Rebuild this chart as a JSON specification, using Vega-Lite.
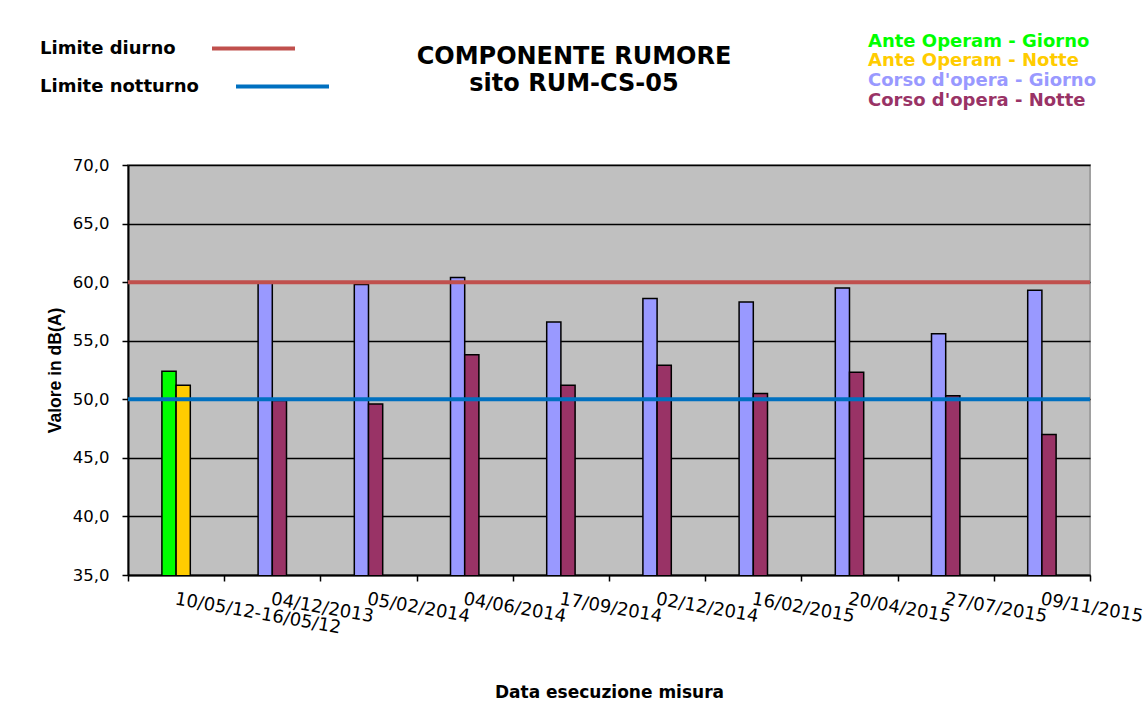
{
  "$schema": "https://vega.github.io/schema/vega-lite/v6.json",
  "width": 962,
  "height": 410,
  "autosize": {"type": "none"},
  "padding": {"left": 128, "top": 165, "right": 56, "bottom": 141},
  "background": "white",
  "title": {
    "text": ["COMPONENTE RUMORE", "sito RUM-CS-05"],
    "font": "DejaVu Sans",
    "fontSize": 24,
    "fontWeight": "bold",
    "color": "black",
    "anchor": "middle",
    "dx": -35,
    "offset": -91,
    "lineHeight": 27
  },
  "config": {
    "view": {"fill": "#C0C0C0", "stroke": "#A0A0A0", "strokeWidth": 2}
  },
  "layer": [
    {
      "data": {
        "values": [
          {"data": "10/05/12-16/05/12", "periodo": "Giorno", "serie": "Ante Operam - Giorno", "valore": 52.4},
          {"data": "10/05/12-16/05/12", "periodo": "Notte", "serie": "Ante Operam - Notte", "valore": 51.2},
          {"data": "04/12/2013", "periodo": "Giorno", "serie": "Corso d'opera - Giorno", "valore": 60.0},
          {"data": "04/12/2013", "periodo": "Notte", "serie": "Corso d'opera - Notte", "valore": 49.9},
          {"data": "05/02/2014", "periodo": "Giorno", "serie": "Corso d'opera - Giorno", "valore": 59.8},
          {"data": "05/02/2014", "periodo": "Notte", "serie": "Corso d'opera - Notte", "valore": 49.6},
          {"data": "04/06/2014", "periodo": "Giorno", "serie": "Corso d'opera - Giorno", "valore": 60.4},
          {"data": "04/06/2014", "periodo": "Notte", "serie": "Corso d'opera - Notte", "valore": 53.8},
          {"data": "17/09/2014", "periodo": "Giorno", "serie": "Corso d'opera - Giorno", "valore": 56.6},
          {"data": "17/09/2014", "periodo": "Notte", "serie": "Corso d'opera - Notte", "valore": 51.2},
          {"data": "02/12/2014", "periodo": "Giorno", "serie": "Corso d'opera - Giorno", "valore": 58.6},
          {"data": "02/12/2014", "periodo": "Notte", "serie": "Corso d'opera - Notte", "valore": 52.9},
          {"data": "16/02/2015", "periodo": "Giorno", "serie": "Corso d'opera - Giorno", "valore": 58.3},
          {"data": "16/02/2015", "periodo": "Notte", "serie": "Corso d'opera - Notte", "valore": 50.5},
          {"data": "20/04/2015", "periodo": "Giorno", "serie": "Corso d'opera - Giorno", "valore": 59.5},
          {"data": "20/04/2015", "periodo": "Notte", "serie": "Corso d'opera - Notte", "valore": 52.3},
          {"data": "27/07/2015", "periodo": "Giorno", "serie": "Corso d'opera - Giorno", "valore": 55.6},
          {"data": "27/07/2015", "periodo": "Notte", "serie": "Corso d'opera - Notte", "valore": 50.3},
          {"data": "09/11/2015", "periodo": "Giorno", "serie": "Corso d'opera - Giorno", "valore": 59.3},
          {"data": "09/11/2015", "periodo": "Notte", "serie": "Corso d'opera - Notte", "valore": 47.0}
        ]
      },
      "mark": {"type": "bar", "stroke": "black", "strokeWidth": 1.5, "clip": true},
      "encoding": {
        "x": {
          "field": "data",
          "type": "nominal",
          "sort": null,
          "scale": {"paddingInner": 0, "paddingOuter": 0},
          "axis": {
            "title": "Data esecuzione misura",
            "titleFont": "DejaVu Sans",
            "titleFontSize": 17,
            "titleFontWeight": "bold",
            "titleColor": "black",
            "titlePadding": 48,
            "labelAngle": 10,
            "labelAlign": "left",
            "labelBaseline": "top",
            "labelFont": "DejaVu Sans",
            "labelFontSize": 18,
            "labelColor": "black",
            "labelPadding": 9,
            "labelOverlap": false,
            "labelBound": false,
            "labelFlush": false,
            "labelLimit": 400,
            "tickBand": "extent",
            "tickSize": 6,
            "tickColor": "black",
            "tickWidth": 1.5,
            "domainColor": "black",
            "domainWidth": 2,
            "grid": false
          }
        },
        "xOffset": {
          "field": "periodo",
          "type": "nominal",
          "scale": {"domain": ["Giorno", "Notte"], "range": [33.9, 62.3], "paddingInner": 0, "paddingOuter": 0}
        },
        "y": {
          "field": "valore",
          "type": "quantitative",
          "scale": {"domain": [35, 70], "zero": false},
          "axis": {
            "title": "Valore in dB(A)",
            "titleFont": "Liberation Sans",
            "titleFontSize": 17.5,
            "titleFontWeight": "bold",
            "titleColor": "black",
            "titlePadding": 8,
            "values": [35, 40, 45, 50, 55, 60, 65, 70],
            "labelExpr": "replace(format(datum.value, '.1f'), '.', ',')",
            "labelFont": "DejaVu Sans",
            "labelFontSize": 16.5,
            "labelColor": "black",
            "labelPadding": 13,
            "tickSize": 6,
            "tickColor": "black",
            "tickWidth": 1.5,
            "domainColor": "black",
            "domainWidth": 2,
            "grid": true,
            "gridColor": "black",
            "gridWidth": 1.3,
            "gridOpacity": 1
          }
        },
        "fill": {
          "field": "serie",
          "type": "nominal",
          "scale": {
            "domain": ["Ante Operam - Giorno", "Ante Operam - Notte", "Corso d'opera - Giorno", "Corso d'opera - Notte"],
            "range": ["#00FF00", "#FFCC00", "#9999FF", "#993366"]
          },
          "legend": {
            "orient": "none",
            "legendX": 722,
            "legendY": -132.5,
            "title": null,
            "symbolSize": 0,
            "symbolStrokeWidth": 0,
            "symbolOpacity": 0,
            "labelOffset": 0,
            "labelFont": "DejaVu Sans",
            "labelFontSize": 18,
            "labelFontWeight": "bold",
            "labelLimit": 400,
            "rowPadding": 1.7,
            "labelColor": {"expr": "datum.value === 'Ante Operam - Giorno' ? '#00FF00' : datum.value === 'Ante Operam - Notte' ? '#FFCC00' : datum.value === 'Corso d\\'opera - Giorno' ? '#9999FF' : '#993366'"}
          }
        }
      }
    },
    {
      "data": {"values": [{"limite_d": "Limite diurno", "valore": 60}]},
      "mark": {"type": "rule", "strokeWidth": 4},
      "encoding": {
        "y": {"field": "valore", "type": "quantitative"},
        "stroke": {
          "field": "limite_d",
          "type": "nominal",
          "scale": {"domain": ["Limite diurno"], "range": ["#C0504D"]},
          "legend": {
            "orient": "none",
            "legendX": -88,
            "legendY": -160,
            "title": null,
            "symbolType": "stroke",
            "symbolSize": 6889,
            "symbolStrokeWidth": 4,
            "labelFont": "DejaVu Sans",
            "labelFontSize": 18,
            "labelFontWeight": "bold",
            "labelColor": "black",
            "labelLimit": 400,
            "encode": {
              "labels": {"update": {"x": {"value": 0}}},
              "symbols": {"update": {"x": {"value": 213.5}}}
            }
          }
        }
      }
    },
    {
      "data": {"values": [{"limite_n": "Limite notturno", "valore": 50}]},
      "mark": {"type": "rule", "strokeWidth": 4},
      "encoding": {
        "y": {"field": "valore", "type": "quantitative"},
        "color": {
          "field": "limite_n",
          "type": "nominal",
          "scale": {"domain": ["Limite notturno"], "range": ["#0070C0"]},
          "legend": {
            "orient": "none",
            "legendX": -88,
            "legendY": -127,
            "title": null,
            "symbolType": "stroke",
            "symbolSize": 8649,
            "symbolStrokeWidth": 4,
            "labelFont": "DejaVu Sans",
            "labelFontSize": 18,
            "labelFontWeight": "bold",
            "labelColor": "black",
            "labelLimit": 400,
            "encode": {
              "labels": {"update": {"x": {"value": 0}}},
              "symbols": {"update": {"x": {"value": 242.5}}}
            }
          }
        }
      }
    }
  ]
}
